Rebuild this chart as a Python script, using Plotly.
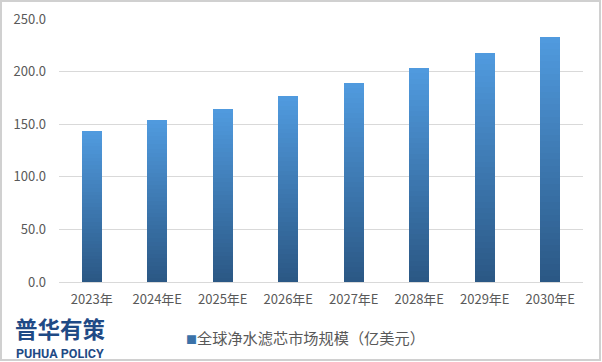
import plotly.graph_objects as go

categories = ["2023年", "2024年E", "2025年E", "2026年E", "2027年E", "2028年E", "2029年E", "2030年E"]
market_size = [143.2, 153.8, 164.5, 176.6, 189.5, 203.3, 217.8, 232.9]
series_name = "全球净水滤芯市场规模（亿美元）"
y_ticks = [0, 50, 100, 150, 200, 250]

FONT = "Noto Sans CJK SC"
top_rgb = (80, 154, 222)
bot_rgb = (43, 88, 133)
legend_col = "#3b72a8"
N = 40

fig = go.Figure()
for k in range(N):
    t = k / (N - 1)
    c = tuple(round(bot_rgb[i] + (top_rgb[i] - bot_rgb[i]) * t) for i in range(3))
    col = "rgb(%d,%d,%d)" % c
    fig.add_trace(go.Bar(
        x=categories,
        y=[v / N for v in market_size],
        marker=dict(color=col, line=dict(width=0)),
        width=0.31,
        name=series_name,
        showlegend=False,
        hoverinfo="skip",
    ))

W, H = 602, 362
L, R, T, B = 59, 19, 19, 80
pw, ph = W - L - R, H - T - B

def px_x(p):
    return (p - L) / pw

def px_y(p):
    return (H - B - p) / ph

fig.update_layout(
    width=W, height=H,
    margin=dict(l=L, r=R, t=T, b=B, autoexpand=False),
    barmode="stack",
    bargap=0.0,
    plot_bgcolor="white",
    paper_bgcolor="white",
    font=dict(family=FONT, size=13, color="#595959"),
    showlegend=False,
    xaxis=dict(
        type="category",
        showgrid=False,
        showline=False,
        ticks="",
        ticklabelstandoff=8,
        tickfont=dict(family=FONT, size=13, color="#595959"),
    ),
    yaxis=dict(
        range=[0, 250],
        tickvals=y_ticks,
        ticktext=["%.1f" % v for v in y_ticks],
        showgrid=True,
        gridcolor="#d9d9d9",
        gridwidth=1,
        zeroline=True,
        zerolinecolor="#d9d9d9",
        zerolinewidth=1,
        showline=False,
        ticks="",
        ticklabelstandoff=12,
        tickfont=dict(family=FONT, size=13, color="#595959"),
    ),
    shapes=[dict(
        type="rect", xref="paper", yref="paper",
        x0=px_x(1), x1=px_x(600), y0=px_y(360), y1=px_y(1),
        line=dict(color="#d0d0d0", width=2), fillcolor="rgba(0,0,0,0)",
        layer="below",
    )],
    annotations=[
        dict(text="<span style='color:%s;font-size:11px'>■</span>%s" % (legend_col, series_name),
             xref="paper", yref="paper",
             x=px_x(184), y=px_y(337), xanchor="left", yanchor="middle",
             showarrow=False,
             font=dict(family=FONT, size=15.2, color="#595959")),
        dict(text="<b>普华有策</b>", xref="paper", yref="paper",
             x=px_x(13), y=px_y(328), xanchor="left", yanchor="middle",
             showarrow=False,
             font=dict(family=FONT, size=22.5, color="#1f4a85")),
        dict(text="<b>PUHUA POLICY</b>", xref="paper", yref="paper",
             x=px_x(14), y=px_y(353), xanchor="left", yanchor="middle",
             showarrow=False,
             font=dict(family="Roboto", size=12.5, color="#1f4a85")),
    ],
)

fig.write_html("out.html",
               config={"displayModeBar": False},
               post_script="document.body.style.margin='0';document.body.style.padding='0';")
